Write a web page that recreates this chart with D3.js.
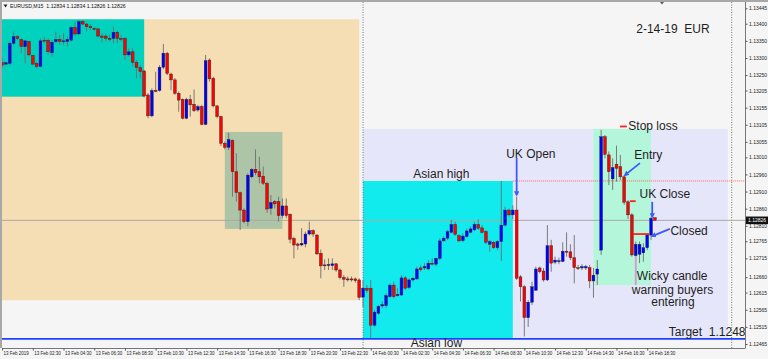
<!DOCTYPE html>
<html>
<head>
<meta charset="utf-8">
<title>EURUSD M15 - 2-14-19</title>
<script src="https://cdn.jsdelivr.net/npm/d3@7"></script>
<style>
  body { margin: 0; background: #f5f5f5; }
  svg text { font-family: "Liberation Sans", Arial, sans-serif; }
</style>
</head>
<body>
<div id="chart"></div>
<script>
// ---- data: EURUSD M15, bar index 0 = 13 Feb 00:00, one bar = 15 min ----
const firstBar = 2;
const opens = [
  1.13286,1.13282,1.13284,1.13343,1.13362,1.13354,1.13333,1.13348,1.13307,1.13284,
  1.13275,1.13352,1.13352,1.13315,1.13348,1.13354,1.13349,1.13348,1.13352,1.13389,
  1.13370,1.13406,1.13399,1.13391,1.13386,1.13385,1.13364,1.13364,1.13357,1.13357,
  1.13375,1.13357,1.13357,1.13309,1.13318,1.13287,1.13272,1.13262,1.13192,1.13131,
  1.13206,1.13205,1.13273,1.13314,1.13253,1.13236,1.13197,1.13179,1.13124,1.13179,
  1.13165,1.13148,1.13158,1.13106,1.13294,1.13241,1.13160,1.13129,1.13051,1.13039,
  1.13059,1.12968,1.12907,1.12856,1.12822,1.12953,1.12975,1.12968,1.12955,1.12934,
  1.12861,1.12881,1.12881,1.12840,1.12868,1.12844,1.12773,1.12757,1.12754,1.12757,
  1.12786,1.12796,1.12783,1.12730,1.12696,1.12696,1.12694,1.12699,1.12681,1.12659,
  1.12655,1.12655,1.12655,1.12652,1.12602,1.12628,1.12628,1.12520,1.12555,1.12576,
  1.12577,1.12603,1.12637,1.12606,1.12608,1.12658,1.12630,1.12652,1.12655,1.12687,
  1.12687,1.12684,1.12701,1.12698,1.12715,1.12766,1.12774,1.12791,1.12814,1.12781,
  1.12767,1.12779,1.12791,1.12798,1.12814,1.12804,1.12793,1.12756,1.12762,1.12746,
  1.12764,1.12812,1.12856,1.12842,1.12856,1.12661,1.12632,1.12542,1.12587,1.12622,
  1.12687,1.12678,1.12652,1.12752,1.12704,1.12707,1.12706,1.12736,1.12734,1.12717,
  1.12688,1.12687,1.12687,1.12688,1.12649,1.12669,1.12739,1.13070,1.13017,1.12947,
  1.12990,1.12983,1.12953,1.12880,1.12842,1.12723,1.12727,1.12731,1.12746,1.12783,
  1.12834
];
const highs = [
  1.13299,1.13289,1.13348,1.13377,1.13367,1.13357,1.13352,1.13350,1.13309,1.13289,
  1.13357,1.13362,1.13357,1.13352,1.13377,1.13367,1.13372,1.13362,1.13393,1.13406,
  1.13411,1.13411,1.13403,1.13399,1.13391,1.13386,1.13372,1.13370,1.13367,1.13391,
  1.13380,1.13367,1.13362,1.13328,1.13328,1.13294,1.13279,1.13265,1.13197,1.13211,
  1.13260,1.13279,1.13341,1.13318,1.13257,1.13241,1.13202,1.13182,1.13184,1.13192,
  1.13208,1.13163,1.13163,1.13309,1.13299,1.13245,1.13163,1.13131,1.13056,1.13082,
  1.13062,1.13022,1.12910,1.12861,1.12963,1.12978,1.13033,1.13012,1.12983,1.12939,
  1.12900,1.12885,1.12895,1.12890,1.12890,1.12846,1.12778,1.12761,1.12803,1.12793,
  1.12822,1.12800,1.12786,1.12741,1.12712,1.12715,1.12715,1.12702,1.12685,1.12666,
  1.12662,1.12662,1.12659,1.12657,1.12652,1.12637,1.12652,1.12564,1.12579,1.12589,
  1.12613,1.12642,1.12647,1.12628,1.12666,1.12664,1.12657,1.12661,1.12691,1.12696,
  1.12701,1.12710,1.12715,1.12717,1.12774,1.12778,1.12798,1.12827,1.12822,1.12785,
  1.12788,1.12802,1.12808,1.12822,1.12829,1.12812,1.12798,1.12769,1.12766,1.12769,
  1.12941,1.12866,1.12861,1.12870,1.12895,1.12666,1.12637,1.12593,1.12647,1.12691,
  1.12691,1.12687,1.12812,1.12769,1.12720,1.12717,1.12762,1.12791,1.12756,1.12783,
  1.12696,1.12698,1.12696,1.12696,1.12687,1.12710,1.13090,1.13075,1.13027,1.13007,
  1.13044,1.13017,1.12958,1.12885,1.12847,1.12764,1.12764,1.12759,1.12788,1.12836,
  1.12834
];
const lows = [
  1.13270,1.13279,1.13279,1.13338,1.13352,1.13314,1.13284,1.13304,1.13279,1.13270,
  1.13273,1.13343,1.13309,1.13304,1.13343,1.13338,1.13338,1.13333,1.13348,1.13364,
  1.13367,1.13396,1.13377,1.13382,1.13380,1.13360,1.13345,1.13350,1.13348,1.13343,
  1.13343,1.13348,1.13294,1.13304,1.13275,1.13241,1.13241,1.13185,1.13124,1.13127,
  1.13200,1.13202,1.13267,1.13250,1.13206,1.13192,1.13143,1.13121,1.13121,1.13129,
  1.13142,1.13143,1.13104,1.13104,1.13231,1.13156,1.13124,1.13043,1.13033,1.13031,
  1.12895,1.12881,1.12798,1.12817,1.12809,1.12949,1.12958,1.12934,1.12929,1.12848,
  1.12842,1.12861,1.12822,1.12832,1.12832,1.12759,1.12715,1.12740,1.12751,1.12747,
  1.12782,1.12778,1.12725,1.12657,1.12681,1.12681,1.12681,1.12676,1.12654,1.12632,
  1.12647,1.12647,1.12644,1.12593,1.12573,1.12614,1.12482,1.12515,1.12550,1.12570,
  1.12570,1.12600,1.12598,1.12603,1.12605,1.12622,1.12625,1.12647,1.12652,1.12676,
  1.12681,1.12681,1.12694,1.12691,1.12710,1.12764,1.12769,1.12788,1.12781,1.12762,
  1.12762,1.12775,1.12788,1.12795,1.12798,1.12788,1.12756,1.12734,1.12742,1.12739,
  1.12707,1.12808,1.12837,1.12830,1.12652,1.12589,1.12487,1.12515,1.12579,1.12620,
  1.12671,1.12647,1.12649,1.12676,1.12698,1.12698,1.12704,1.12720,1.12710,1.12642,
  1.12681,1.12681,1.12681,1.12628,1.12600,1.12637,1.12725,1.13007,1.12929,1.12915,
  1.12939,1.12944,1.12871,1.12830,1.12720,1.12642,1.12701,1.12705,1.12739,1.12769,
  1.12826
];
const closes = [
  1.13279,1.13286,1.13343,1.13362,1.13357,1.13333,1.13350,1.13309,1.13282,1.13275,
  1.13350,1.13350,1.13318,1.13346,1.13354,1.13348,1.13350,1.13354,1.13389,1.13370,
  1.13406,1.13399,1.13391,1.13389,1.13385,1.13364,1.13360,1.13357,1.13356,1.13375,
  1.13357,1.13356,1.13309,1.13318,1.13287,1.13272,1.13260,1.13189,1.13131,1.13205,
  1.13202,1.13273,1.13314,1.13255,1.13236,1.13197,1.13177,1.13124,1.13179,1.13163,
  1.13146,1.13158,1.13106,1.13292,1.13239,1.13160,1.13129,1.13051,1.13039,1.13062,
  1.12968,1.12907,1.12856,1.12822,1.12958,1.12975,1.12965,1.12953,1.12934,1.12859,
  1.12878,1.12874,1.12840,1.12868,1.12840,1.12771,1.12754,1.12753,1.12759,1.12786,
  1.12796,1.12786,1.12728,1.12693,1.12695,1.12697,1.12699,1.12681,1.12659,1.12654,
  1.12654,1.12654,1.12650,1.12601,1.12628,1.12622,1.12520,1.12558,1.12575,1.12580,
  1.12606,1.12637,1.12603,1.12610,1.12658,1.12628,1.12652,1.12657,1.12684,1.12682,
  1.12691,1.12701,1.12699,1.12715,1.12766,1.12774,1.12793,1.12814,1.12785,1.12766,
  1.12780,1.12795,1.12801,1.12814,1.12803,1.12791,1.12762,1.12764,1.12746,1.12764,
  1.12812,1.12856,1.12842,1.12856,1.12657,1.12632,1.12542,1.12587,1.12632,1.12684,
  1.12676,1.12652,1.12752,1.12701,1.12710,1.12708,1.12736,1.12733,1.12717,1.12688,
  1.12687,1.12691,1.12691,1.12649,1.12666,1.12684,1.13070,1.13019,1.12968,1.12980,
  1.12978,1.12953,1.12879,1.12842,1.12725,1.12756,1.12756,1.12746,1.12783,1.12832,
  1.12826
];

// price scale labels (right) and time labels (bottom)
const priceTicks = [1.13445,1.13400,1.13350,1.13300,1.13250,1.13205,1.13155,1.13105,1.13055,1.13010,
  1.12960,1.12910,1.12860,1.12810,1.12765,1.12715,1.12660,1.12615,1.12565,1.12515,1.12465];
const timeBars = [2,10,18,26,34,42,50,58,66,74,82,90,98,106,114,122,130,138,146,154,162,170];
const timeLabels = ["13 Feb 2019","13 Feb 02:30","13 Feb 04:30","13 Feb 06:30","13 Feb 08:30",
  "13 Feb 10:30","13 Feb 12:30","13 Feb 14:30","13 Feb 16:30","13 Feb 18:30","13 Feb 20:30",
  "13 Feb 22:30","14 Feb 00:30","14 Feb 02:30","14 Feb 04:30","14 Feb 06:30","14 Feb 08:30",
  "14 Feb 10:30","14 Feb 12:30","14 Feb 14:30","14 Feb 16:30","14 Feb 18:30"];
const separatorBars = [96, 192];
const bidPrice = 1.12826;
const headerText = "EURUSD,M15  1.12834 1.12834 1.12826 1.12826";

// session boxes: [bar from, bar to], [price top, price bottom]
const boxBars = [[0,39],[0,95],[60,75],[96,191],[96,135],[156,171]];
const boxPrices = [[1.13413,1.13187],[1.13413,1.12593],[1.13084,1.12801],
  [1.13093,1.12480],[1.12941,1.12480],[1.13093,1.12637]];
const boxColors = ["#00d2be","#f5deb3","#aec4a7","#e6e6fa","#12ebee","#b4f6da"];
const boxOrder = [1,0,2,3,4,5];

const asianHigh = 1.12941, asianHighFrom = 135;
const target = 1.1248;

// red level marks: [bar from, bar to], price
const markBars = [[162.9,164.7],[165.5,167],[166.3,170.5]];
const markPrices = [1.13100,1.12882,1.12786];
// wicky candle wick highlight
const wickyBar = 167, wickyPrices = [1.12731, 1.12637];

// arrows: [bar, price] start -> end
const arrowFrom = [[136,1.13008],[168.1,1.12993],[171.3,1.12880],[175.9,1.12801]];
const arrowTo   = [[136,1.12900],[164.2,1.12958],[171.3,1.12836],[171.3,1.12780]];

// text notes: centre bar, baseline price
const noteTexts = ["2-14-19  EUR","Stop loss","UK Open","Entry","UK Close","Closed",
  "Asian high","Asian low","Target  1.1248","Wicky candle","warning buyers","entering"];
const noteBars = [176.7,171.5,139.7,170.3,174.6,180.9,116.4,115.1,185.6,176.5,176.6,176.7];
const notePrices = [1.13372,1.13089,1.13009,1.13006,1.12892,1.12782,1.12949,1.12455,1.12487,
  1.12651,1.12612,1.12575];

// ---- drawing ----
const W = 768, H = 359;
const plot = {left: 2, right: 745, top: 2, bottom: 348};

const x = d3.scaleLinear().domain([0, 192]).range([-5.6, 731.7]);
const y = d3.scaleLinear().domain([1.12465, 1.13445]).range([344, 8.3]);

const svg = d3.select("#chart").append("svg").attr("width", W).attr("height", H);
svg.append("rect").attr("width", W).attr("height", H).attr("fill", "#f5f5f5");

const defs = svg.append("defs");
defs.append("clipPath").attr("id", "plotclip").append("rect")
  .attr("x", plot.left).attr("y", plot.top)
  .attr("width", plot.right - plot.left).attr("height", plot.bottom - plot.top);
defs.append("marker").attr("id", "arr").attr("viewBox", "0 0 10 10")
  .attr("refX", 7).attr("refY", 5).attr("markerWidth", 3).attr("markerHeight", 3)
  .attr("orient", "auto")
  .append("path").attr("d", "M0,0L10,5L0,10z").attr("fill", "#3b5bfd");

// window borders
svg.append("rect").attr("x", 0).attr("y", 0).attr("width", W).attr("height", 2).attr("fill", "#a8a8a8");
svg.append("rect").attr("x", 0).attr("y", 0).attr("width", 2).attr("height", plot.bottom).attr("fill", "#a8a8a8");

const g = svg.append("g").attr("clip-path", "url(#plotclip)");

// boxes
g.selectAll("rect.box").data(boxOrder).join("rect")
  .attr("class", "box")
  .attr("x", k => x(boxBars[k][0]))
  .attr("width", k => x(boxBars[k][1]) - x(boxBars[k][0]))
  .attr("y", k => y(boxPrices[k][0]))
  .attr("height", k => y(boxPrices[k][1]) - y(boxPrices[k][0]))
  .attr("fill", k => boxColors[k]);

// separators
g.selectAll("line.sep").data(separatorBars).join("line")
  .attr("x1", d => x(d)).attr("x2", d => x(d))
  .attr("y1", plot.top).attr("y2", plot.bottom)
  .attr("stroke", "#777").attr("stroke-width", 1).attr("stroke-dasharray", "1,1.5");

// bid line, asian high
g.append("line").attr("x1", plot.left).attr("x2", plot.right)
  .attr("y1", y(bidPrice)).attr("y2", y(bidPrice))
  .attr("stroke", "#a9a9a9").attr("stroke-width", 1);
g.append("line").attr("x1", x(asianHighFrom)).attr("x2", plot.right)
  .attr("y1", y(asianHigh)).attr("y2", y(asianHigh))
  .attr("stroke", "#ff4040").attr("stroke-width", 0.8).attr("stroke-dasharray", "1,1");

// candles
const candles = opens.map((o, k) => ({i: firstBar + k, o, h: highs[k], l: lows[k], c: closes[k]}));
g.selectAll("line.wick").data(candles).join("line")
  .attr("x1", d => x(d.i)).attr("x2", d => x(d.i))
  .attr("y1", d => y(d.h)).attr("y2", d => y(d.l))
  .attr("stroke", "#6e6e6e").attr("stroke-width", 0.9);

g.append("line")
  .attr("x1", x(wickyBar)).attr("x2", x(wickyBar))
  .attr("y1", y(wickyPrices[0])).attr("y2", y(wickyPrices[1]))
  .attr("stroke", "#d99ad6").attr("stroke-width", 1.8);

g.selectAll("rect.body").data(candles).join("rect")
  .attr("x", d => x(d.i) - 1.4).attr("width", 2.8)
  .attr("y", d => y(Math.max(d.o, d.c)))
  .attr("height", d => Math.max(1, Math.abs(y(d.o) - y(d.c))))
  .attr("fill", d => d.c >= d.o ? "#0000ff" : "#ff0000")
  .attr("stroke", "#222").attr("stroke-width", 0.4);

// target line
g.append("line").attr("x1", plot.left).attr("x2", plot.right)
  .attr("y1", y(target)).attr("y2", y(target))
  .attr("stroke", "#2040ff").attr("stroke-width", 1.6);

// red marks
g.selectAll("line.mark").data(markBars).join("line")
  .attr("x1", d => x(d[0])).attr("x2", d => x(d[1]))
  .attr("y1", (d, k) => y(markPrices[k])).attr("y2", (d, k) => y(markPrices[k]))
  .attr("stroke", "#ff2020").attr("stroke-width", 1.8);

// arrows
g.selectAll("line.arrow").data(arrowFrom).join("line")
  .attr("x1", d => x(d[0])).attr("y1", d => y(d[1]))
  .attr("x2", (d, k) => x(arrowTo[k][0])).attr("y2", (d, k) => y(arrowTo[k][1]))
  .attr("stroke", "#3b5bfd").attr("stroke-width", 1.8)
  .attr("marker-end", "url(#arr)");

// notes
svg.selectAll("text.note").data(noteTexts).join("text")
  .attr("x", (d, k) => x(noteBars[k])).attr("y", (d, k) => y(notePrices[k]))
  .attr("text-anchor", "middle").attr("font-size", 12).attr("fill", "#1e1e1e")
  .style("white-space", "pre")
  .text(d => d);

// header
svg.append("path").attr("d", "M3.5,4.5L7.5,4.5L5.5,7.5z").attr("fill", "#222");
svg.append("text").attr("x", 10).attr("y", 8).attr("font-size", 5.2).attr("fill", "#111")
  .style("white-space", "pre").text(headerText);
svg.append("path").attr("d", "M660,2L664,2L662,4.5z").attr("fill", "#555");

// right price axis
svg.append("line").attr("x1", plot.right + 0.5).attr("x2", plot.right + 0.5)
  .attr("y1", plot.top).attr("y2", plot.bottom).attr("stroke", "#777");
const yAxis = svg.append("g").attr("transform", `translate(${plot.right + 0.5},0)`)
  .call(d3.axisRight(y).tickValues(priceTicks).tickSize(2).tickPadding(1.5)
    .tickFormat(d3.format(".5f")));
yAxis.select(".domain").remove();
yAxis.selectAll("line").attr("stroke", "#555");
yAxis.selectAll("text").attr("font-size", 5).attr("fill", "#222")
  .attr("font-family", "Liberation Sans, Arial, sans-serif");

// bid price box
svg.append("rect").attr("x", plot.right + 1).attr("y", y(bidPrice) - 3.8)
  .attr("width", W - plot.right - 1).attr("height", 7.6).attr("fill", "#111");
svg.append("text").attr("x", plot.right + 3).attr("y", y(bidPrice) + 1.8)
  .attr("font-size", 5).attr("fill", "#fff").text(d3.format(".5f")(bidPrice));

// bottom time axis
svg.append("line").attr("x1", plot.left).attr("x2", plot.right + 0.5)
  .attr("y1", plot.bottom + 0.5).attr("y2", plot.bottom + 0.5).attr("stroke", "#777");
const xAxis = svg.append("g").attr("transform", `translate(0,${plot.bottom + 0.5})`)
  .call(d3.axisBottom(x).tickValues(timeBars).tickSize(2).tickPadding(1)
    .tickFormat((d, k) => timeLabels[k]));
xAxis.select(".domain").remove();
xAxis.selectAll("line").attr("stroke", "#555");
xAxis.selectAll("text").attr("font-size", 4.5).attr("fill", "#222")
  .attr("text-anchor", "start").attr("dx", 1)
  .attr("font-family", "Liberation Sans, Arial, sans-serif");
</script>
</body>
</html>
